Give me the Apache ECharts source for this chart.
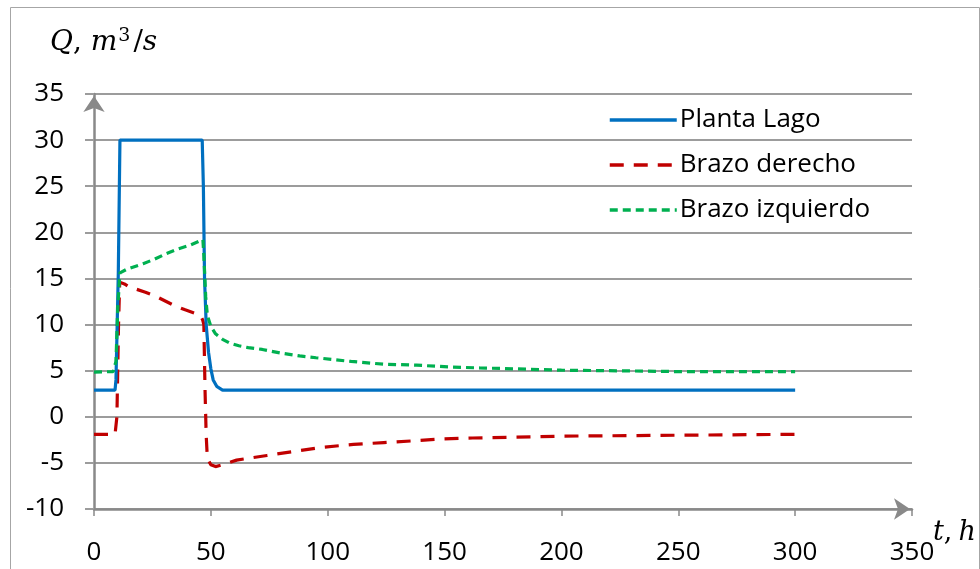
<!DOCTYPE html>
<html>
<head>
<meta charset="utf-8">
<title>Caudales</title>
<script src="https://cdn.jsdelivr.net/npm/echarts@6/dist/echarts.min.js"></script>
<style>
  html, body { margin: 0; padding: 0; background: #fff; }
  #chart { width: 980px; height: 569px; }
</style>
</head>
<body>
<div id="chart"></div>
<script>
// Series names
const seriesNames = ['Planta Lago', 'Brazo derecho', 'Brazo izquierdo'];

// Planta Lago: time (h) and discharge (m3/s)
const tLago = [0, 9.0, 9.4, 10.4, 11.1, 46.3, 46.8, 47.3, 48.0, 49.0, 50.0, 51.0, 52.5, 55, 300];
const qLago = [2.9, 2.9, 4.0, 15.6, 30, 30, 25, 15, 10, 7.0, 5.2, 4.0, 3.3, 2.9, 2.9];

// Brazo derecho
const tDer = [0, 9.0, 9.8, 10.5, 11.0, 13, 15, 22, 27, 34, 39, 45.5, 46.5, 47.0, 47.5, 48.0, 48.5, 50, 52, 55, 61, 74, 87, 98, 111, 124, 137, 149, 162, 200, 250, 300];
const qDer = [-1.9, -1.9, 0, 10, 14.6, 14.4, 14.1, 13.5, 13.0, 12.1, 11.6, 11.0, 10.5, 10, 3, -2, -4.5, -5.2, -5.4, -5.2, -4.7, -4.2, -3.7, -3.3, -3.0, -2.8, -2.6, -2.4, -2.3, -2.1, -2.0, -1.9];

// Brazo izquierdo
const tIzq = [0, 8.2, 9.4, 10.2, 11.1, 14, 21, 26, 31, 36, 41, 46.6, 47.0, 47.8, 48.5, 50, 52, 55, 58, 62, 66, 72, 80, 88, 95, 110, 124, 138, 152, 165, 180, 200, 220, 250, 300];
const qIzq = [4.85, 4.9, 6, 12, 15.6, 16.0, 16.6, 17.1, 17.7, 18.2, 18.6, 19.2, 17.5, 13, 11, 9.8, 9.0, 8.4, 8.0, 7.7, 7.5, 7.3, 6.9, 6.6, 6.4, 6.0, 5.7, 5.6, 5.4, 5.3, 5.2, 5.05, 5.0, 4.9, 4.9];

// Axis ranges and ticks
const xTicks = [0, 50, 100, 150, 200, 250, 300, 350];
const yTicks = [-10, -5, 0, 5, 10, 15, 20, 25, 30, 35];

const pairs = (t, q) => t.map((v, i) => [v, q[i]]);

const axisGray = '#898989';
const gridGray = '#9c9c9c';
const labelFont = '"Open Sans", "Noto Sans", sans-serif';
const mathFont = '"DejaVu Serif", serif';

const chart = echarts.init(document.getElementById('chart'));
chart.setOption({
  animation: false,
  backgroundColor: '#ffffff',
  grid: { left: 94, right: 68, top: 94, bottom: 60, containLabel: false },
  legend: {
    orient: 'vertical',
    left: 603,
    top: 102,
    itemWidth: 67,
    itemHeight: 14,
    itemGap: 19,
    // legend keys show only the line, no marker
    itemStyle: { opacity: 0 },
    lineStyle: { width: 3.5 },
    textStyle: { fontFamily: labelFont, fontSize: 26, color: '#000', padding: [0, 0, 0, -2] },
    data: seriesNames
  },
  xAxis: {
    type: 'value',
    min: xTicks[0],
    max: xTicks[xTicks.length - 1],
    interval: xTicks[1] - xTicks[0],
    axisLine: {
      onZero: false,
      lineStyle: { color: axisGray, width: 2.5 },
      symbol: ['none', 'arrow'],
      symbolSize: [16, 16],
      symbolOffset: [0, -2]
    },
    axisTick: { show: true, inside: false, length: 7, lineStyle: { color: axisGray, width: 1.5 } },
    axisLabel: { fontFamily: labelFont, fontSize: 26, color: '#000', margin: 31 },
    splitLine: { show: false }
  },
  yAxis: {
    type: 'value',
    min: yTicks[0],
    max: yTicks[yTicks.length - 1],
    interval: yTicks[1] - yTicks[0],
    axisLine: {
      show: true,
      onZero: false,
      lineStyle: { color: axisGray, width: 2.5 },
      symbol: ['none', 'arrow'],
      symbolSize: [16, 16],
      symbolOffset: [0, -2]
    },
    axisTick: { show: true, inside: false, length: 9, lineStyle: { color: gridGray, width: 2 } },
    axisLabel: { fontFamily: labelFont, fontSize: 26, color: '#000', margin: 30 },
    splitLine: { show: true, lineStyle: { color: gridGray, width: 2 } }
  },
  series: [
    {
      name: seriesNames[0], type: 'line', symbol: 'none', z: 4,
      data: pairs(tLago, qLago),
      lineStyle: { color: '#0070C0', width: 3.2 },
      itemStyle: { color: '#0070C0' }
    },
    {
      name: seriesNames[1], type: 'line', symbol: 'none', z: 3,
      data: pairs(tDer, qDer),
      lineStyle: { color: '#C00000', width: 3.2, type: [14, 10] },
      itemStyle: { color: '#C00000' }
    },
    {
      name: seriesNames[2], type: 'line', symbol: 'none', z: 5,
      data: pairs(tIzq, qIzq),
      lineStyle: { color: '#00B050', width: 3.2, type: [8, 5] },
      itemStyle: { color: '#00B050' }
    }
  ],
  graphic: [
    {
      type: 'rect', left: 8, top: 5, z: -1, silent: true,
      shape: { width: 969, height: 600 },
      style: { fill: 'none', stroke: '#a6a6a6', lineWidth: 1 }
    },
    {
      type: 'text', left: 50, top: 27,
      style: {
        text: '{i|Q}{n|, }{i|m}{s|3}{n|/}{i|s}',
        rich: {
          i: { fontFamily: mathFont, fontStyle: 'italic', fontSize: 28, fill: '#000' },
          n: { fontFamily: mathFont, fontSize: 28, fill: '#000' },
          s: { fontFamily: mathFont, fontSize: 19, fill: '#000', verticalAlign: 'top', padding: [0, 3, 12, 1] }
        }
      }
    },
    {
      type: 'text', left: 933, top: 519,
      style: {
        text: '{i|t}{n|,}{i|h}',
        rich: {
          i: { fontFamily: mathFont, fontStyle: 'italic', fontSize: 27, fill: '#000' },
          n: { fontFamily: mathFont, fontSize: 27, fill: '#000', padding: [0, 6, 0, 0] }
        }
      }
    }
  ]
});
</script>
</body>
</html>
